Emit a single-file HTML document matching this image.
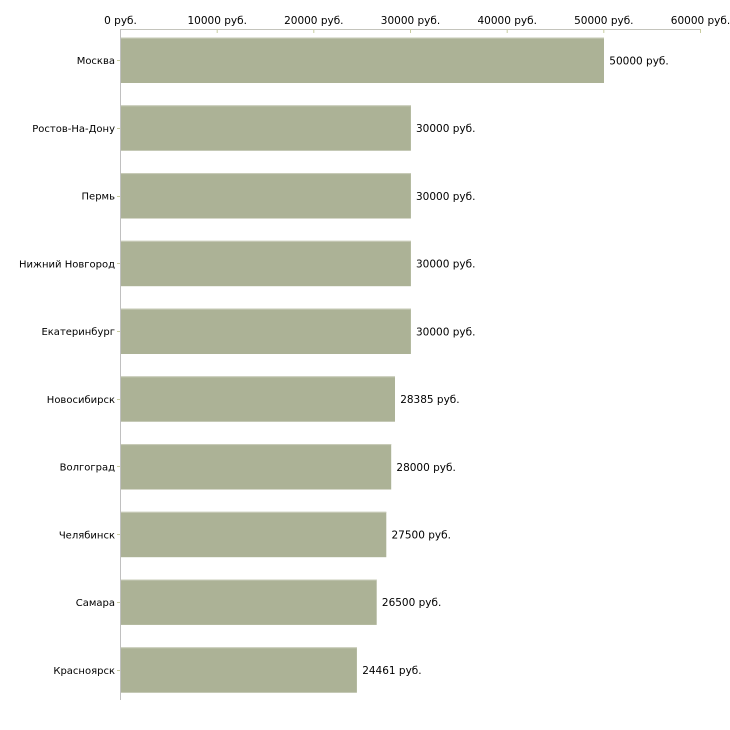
<!DOCTYPE html>
<html><head><meta charset="utf-8"><style>
html,body{margin:0;padding:0;background:#fff;}
svg{display:block;}
text{font-family:"DejaVu Sans","Liberation Sans",sans-serif;font-size:10.5px;fill:#000;}
text.cat{font-size:10px;}
</style></head><body>
<svg width="730" height="730" viewBox="0 0 730 730" xmlns="http://www.w3.org/2000/svg">
<!-- top axis -->
<line x1="120" y1="29.5" x2="701" y2="29.5" stroke="#c4c4bc" stroke-width="1"/>
<g stroke="#c8cca0" stroke-width="1">
<line x1="120.5" y1="29" x2="120.5" y2="33"/>
<line x1="217.2" y1="29" x2="217.2" y2="33"/>
<line x1="313.8" y1="29" x2="313.8" y2="33"/>
<line x1="410.5" y1="29" x2="410.5" y2="33"/>
<line x1="507.2" y1="29" x2="507.2" y2="33"/>
<line x1="603.8" y1="29" x2="603.8" y2="33"/>
<line x1="700.5" y1="29" x2="700.5" y2="33"/>
</g>
<g text-anchor="middle">
<text x="120.5" y="24">0 руб.</text>
<text x="217.2" y="24">10000 руб.</text>
<text x="313.8" y="24">20000 руб.</text>
<text x="410.5" y="24">30000 руб.</text>
<text x="507.2" y="24">40000 руб.</text>
<text x="603.8" y="24">50000 руб.</text>
<text x="700.5" y="24">60000 руб.</text>
</g>
<!-- bars -->
<g fill="#acb296">
<rect x="121" y="37.6" width="483" height="45.4"/>
<rect x="121" y="105.3" width="289.9" height="45.4"/>
<rect x="121" y="173.1" width="289.9" height="45.4"/>
<rect x="121" y="240.8" width="289.9" height="45.4"/>
<rect x="121" y="308.6" width="289.9" height="45.4"/>
<rect x="121" y="376.3" width="274" height="45.4"/>
<rect x="121" y="444.1" width="270.2" height="45.4"/>
<rect x="121" y="511.8" width="265.3" height="45.4"/>
<rect x="121" y="579.5" width="255.7" height="45.4"/>
<rect x="121" y="647.3" width="235.9" height="45.4"/>
</g>
<g fill="#c9ccb9">
<rect x="121" y="37.6" width="483" height="1"/>
<rect x="121" y="105.3" width="289.9" height="1"/>
<rect x="121" y="173.1" width="289.9" height="1"/>
<rect x="121" y="240.8" width="289.9" height="1"/>
<rect x="121" y="308.6" width="289.9" height="1"/>
<rect x="121" y="376.3" width="274" height="1"/>
<rect x="121" y="444.1" width="270.2" height="1"/>
<rect x="121" y="511.8" width="265.3" height="1"/>
<rect x="121" y="579.5" width="255.7" height="1"/>
<rect x="121" y="647.3" width="235.9" height="1"/>
</g>
<!-- left axis -->
<line x1="120.5" y1="29" x2="120.5" y2="700" stroke="#c0c0c0" stroke-width="1"/>
<g stroke="#c8cca0" stroke-width="1">
<line x1="117" y1="60.5" x2="120" y2="60.5"/>
<line x1="117" y1="128.5" x2="120" y2="128.5"/>
<line x1="117" y1="196.5" x2="120" y2="196.5"/>
<line x1="117" y1="263.5" x2="120" y2="263.5"/>
<line x1="117" y1="331.5" x2="120" y2="331.5"/>
<line x1="117" y1="399.5" x2="120" y2="399.5"/>
<line x1="117" y1="466.5" x2="120" y2="466.5"/>
<line x1="117" y1="534.5" x2="120" y2="534.5"/>
<line x1="117" y1="602.5" x2="120" y2="602.5"/>
<line x1="117" y1="670.5" x2="120" y2="670.5"/>
</g>
<g text-anchor="end">
<text class="cat" x="115" y="64.1">Москва</text>
<text class="cat" x="115" y="131.8">Ростов-На-Дону</text>
<text class="cat" x="115" y="199.6">Пермь</text>
<text class="cat" x="115" y="267.3">Нижний Новгород</text>
<text class="cat" x="115" y="335.1">Екатеринбург</text>
<text class="cat" x="115" y="402.8">Новосибирск</text>
<text class="cat" x="115" y="470.6">Волгоград</text>
<text class="cat" x="115" y="538.3">Челябинск</text>
<text class="cat" x="115" y="606">Самара</text>
<text class="cat" x="115" y="673.8">Красноярск</text>
</g>
<g>
<text x="609.3" y="64.3">50000 руб.</text>
<text x="416" y="132">30000 руб.</text>
<text x="416" y="199.8">30000 руб.</text>
<text x="416" y="267.5">30000 руб.</text>
<text x="416" y="335.3">30000 руб.</text>
<text x="400.2" y="403">28385 руб.</text>
<text x="396.4" y="470.8">28000 руб.</text>
<text x="391.5" y="538.5">27500 руб.</text>
<text x="381.9" y="606.2">26500 руб.</text>
<text x="362.2" y="674">24461 руб.</text>
</g>
</svg>
</body></html>
